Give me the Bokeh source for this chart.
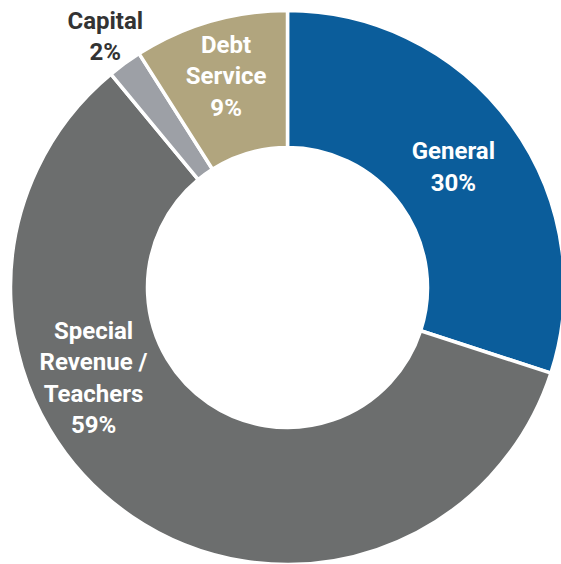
import math
from bokeh.plotting import figure
from bokeh.models import Range1d, ColumnDataSource
from bokeh.core.properties import value
from bokeh.embed import file_html
from bokeh.resources import INLINE

# ---- data ----
categories = ["General", "Special Revenue / Teachers", "Capital", "Debt Service"]
shares = [30, 59, 2, 9]
label_texts = ["General\n30%", "Special\nRevenue /\nTeachers\n59%", "Capital\n2%", "Debt\nService\n9%"]
colors = ["#0b5d9b", "#6c6e6e", "#9da0a6", "#b1a57e"]
label_colors = ["white", "white", "#333333", "white"]

# ---- layout (screen pixel geometry of the reference) ----
W, H = 561, 564
OFF = 0
cx_s, cy_s = 287, 287           # centre in page pixels
R_OUT, R_IN = 277, 140
# label placement: (angle from top clockwise in degrees or None for mid, radius)
label_place = [(None, 205), (245, 214), (None, 310), (None, 220)]


def to_data(sx, sy):
    return sx - OFF, (H + OFF) - sy


cx, cy = to_data(cx_s, cy_s)

total = float(sum(shares))
starts_cw, ends_cw = [], []
acc = 0.0
for s in shares:
    starts_cw.append(acc / total * 360.0)
    acc += s
    ends_cw.append(acc / total * 360.0)

# bokeh angles: anticlockwise from +x; clockwise-from-top t -> 90 - t
start_angles = [math.radians(90 - e) for e in ends_cw]
end_angles = [math.radians(90 - s) for s in starts_cw]

src = ColumnDataSource(dict(cat=categories, start=start_angles, end=end_angles, color=colors))

p = figure(width=W, height=H, output_backend="svg", toolbar_location=None,
           x_range=Range1d(0, W), y_range=Range1d(0, H),
           x_axis_location=None, y_axis_location=None, min_border=0)
p.grid.visible = False
p.outline_line_color = None
p.background_fill_color = "white"

p.annular_wedge(x=cx, y=cy, inner_radius=R_IN, outer_radius=R_OUT,
                start_angle="start", end_angle="end", color="color",
                line_color="white", line_width=3.5, source=src)

lx, ly = [], []
for (ang, r), s0, e0 in zip(label_place, starts_cw, ends_cw):
    a = (s0 + e0) / 2 if ang is None else ang
    t = math.radians(a)
    lx.append(cx + r * math.sin(t))
    ly.append(cy + r * math.cos(t))

lsrc = ColumnDataSource(dict(x=lx, y=ly, text=label_texts, color=label_colors))
p.text(x="x", y="y", text="text", text_color="color", source=lsrc,
       text_align="center", text_baseline="middle",
       text_font=value("Roboto"), text_font_style="bold",
       text_font_size="24px", text_line_height=1.12)

open("out.html", "w").write(file_html(p, INLINE))
